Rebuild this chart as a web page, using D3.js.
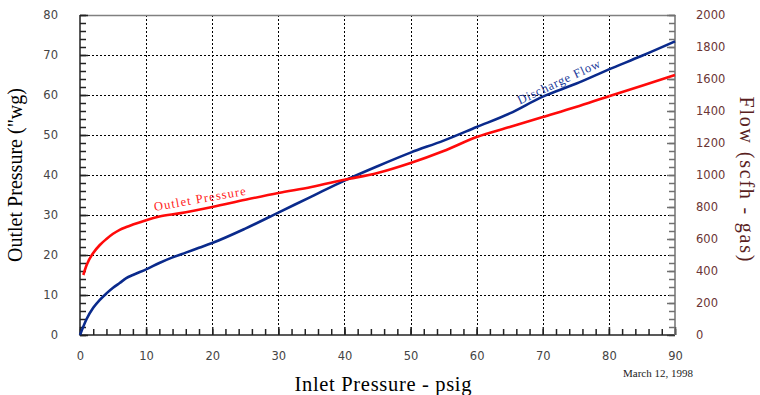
<!DOCTYPE html>
<html>
<head>
<meta charset="utf-8">
<script src="https://cdn.jsdelivr.net/npm/d3@7"></script>
<style>
  body { margin: 0; background: #fff; }
  svg { display: block; }
</style>
</head>
<body>
<div id="chart"></div>
<script>
// Outlet pressure ("wg, left axis) vs inlet pressure (psig)
const outletInlet = [0.5, 1, 2, 3, 4, 5, 6, 7, 8, 10, 12, 15, 20, 25, 30, 35, 40, 45, 50, 55, 60, 65, 70, 75, 80, 85, 90];
const outletValues = [15, 17.5, 20.5, 22.5, 24, 25.3, 26.3, 27, 27.6, 28.7, 29.6, 30.4, 32, 33.8, 35.5, 37, 38.8, 40.5, 43, 46, 49.5, 52, 54.5, 57, 59.7, 62.3, 65];

// Discharge flow (scfh - gas, right axis) vs inlet pressure
const flowInlet = [0, 1, 2, 3, 4, 5, 6, 7, 8, 10, 12, 14, 16, 18, 20, 25, 30, 35, 40, 45, 50, 55, 60, 65, 70, 75, 80, 85, 90];
const flowValues = [0, 100, 170, 220, 260, 295, 325, 355, 375, 410, 450, 485, 515, 545, 575, 665, 765, 865, 965, 1055, 1140, 1215, 1300, 1385, 1490, 1570, 1660, 1745, 1835];

const xTicks = [0, 10, 20, 30, 40, 50, 60, 70, 80, 90];
const leftTicks = [0, 10, 20, 30, 40, 50, 60, 70, 80];
const rightTicks = [0, 200, 400, 600, 800, 1000, 1200, 1400, 1600, 1800, 2000];

const width = 760, height = 395;
const pLeft = 80, pRight = 675, pTop = 15, pBottom = 335;

const svg = d3.select('#chart').append('svg')
  .attr('width', width)
  .attr('height', height);

const x = d3.scaleLinear().domain([0, 90]).range([pLeft, pRight]);
const yL = d3.scaleLinear().domain([0, 80]).range([pBottom, pTop]);
const yR = d3.scaleLinear().domain([0, 2000]).range([pBottom, pTop]);

const tickFont = '"DejaVu Sans", Verdana, sans-serif';
const serif = '"Liberation Serif", "Times New Roman", serif';

// grid
const grid = svg.append('g').attr('stroke', '#000').attr('stroke-width', 1)
  .attr('stroke-dasharray', '2,2').attr('shape-rendering', 'crispEdges');
grid.selectAll('.vg').data(xTicks.slice(1, -1)).enter().append('line')
  .attr('x1', d => Math.round(x(d)) + 0.5).attr('x2', d => Math.round(x(d)) + 0.5)
  .attr('y1', pTop).attr('y2', pBottom);
grid.selectAll('.hg').data(leftTicks.slice(1, -1)).enter().append('line')
  .attr('x1', pLeft).attr('x2', pRight)
  .attr('y1', d => Math.round(yL(d)) + 0.5).attr('y2', d => Math.round(yL(d)) + 0.5);

// frame top
svg.append('line').attr('x1', pLeft).attr('x2', pRight + 0.5).attr('y1', pTop + 0.5).attr('y2', pTop + 0.5)
  .attr('stroke', '#808080').attr('stroke-width', 1.5);

// axes
const xAxis = svg.append('g').attr('transform', `translate(0,${pBottom})`)
  .call(d3.axisBottom(x).tickValues(d3.range(0, 91, 2)).tickSize(-6).tickFormat(''));
const xLabels = svg.append('g').attr('transform', `translate(0,${pBottom})`)
  .call(d3.axisBottom(x).tickValues(xTicks).tickSize(-8).tickPadding(17).tickFormat(d3.format('d')));

const yAxis = svg.append('g').attr('transform', `translate(${pLeft},0)`)
  .call(d3.axisLeft(yL).tickValues(d3.range(0, 81, 2)).tickSize(-6).tickFormat(''));
const yLabels = svg.append('g').attr('transform', `translate(${pLeft},0)`)
  .call(d3.axisLeft(yL).tickValues(leftTicks).tickSize(-8).tickPadding(22).tickFormat(d3.format('d')));

const rAxis = svg.append('g').attr('transform', `translate(${pRight},0)`)
  .call(d3.axisRight(yR).tickValues(d3.range(0, 2001, 50)).tickSize(-6).tickFormat(''));
const rLabels = svg.append('g').attr('transform', `translate(${pRight},0)`)
  .call(d3.axisRight(yR).tickValues(rightTicks).tickSize(-8).tickPadding(21).tickFormat(d3.format('d')));

[xAxis, xLabels, yAxis, yLabels].forEach(g => {
  g.selectAll('path, line').attr('stroke', '#222').attr('stroke-width', 1.5);
  g.selectAll('text').attr('font-family', tickFont).attr('font-size', 11.5).attr('fill', '#444');
});
[rAxis, rLabels].forEach(g => {
  g.selectAll('path, line').attr('stroke', '#707070').attr('stroke-width', 1.5);
  g.selectAll('text').attr('font-family', tickFont).attr('font-size', 11.5).attr('fill', '#6b3535');
});
[xAxis, xLabels, yAxis, yLabels, rAxis, rLabels].forEach(g => g.select('.domain').remove());
svg.append('line').attr('x1', pLeft).attr('x2', pLeft).attr('y1', pTop).attr('y2', pBottom + 0.75)
  .attr('stroke', '#222').attr('stroke-width', 1.5);
svg.append('line').attr('x1', pLeft).attr('x2', pRight).attr('y1', pBottom).attr('y2', pBottom)
  .attr('stroke', '#222').attr('stroke-width', 1.5);
svg.append('line').attr('x1', pRight).attr('x2', pRight).attr('y1', pTop).attr('y2', pBottom)
  .attr('stroke', '#707070').attr('stroke-width', 1.5);

// lines
const outletLine = d3.line().x((d, i) => x(outletInlet[i])).y(d => yL(d)).curve(d3.curveMonotoneX);
const flowLine = d3.line().x((d, i) => x(flowInlet[i])).y(d => yR(d)).curve(d3.curveMonotoneX);

svg.append('path').datum(flowValues)
  .attr('d', flowLine).attr('fill', 'none').attr('stroke', '#0a2a8c').attr('stroke-width', 2.6);
svg.append('path').datum(outletValues)
  .attr('d', outletLine).attr('fill', 'none').attr('stroke', '#ff0a0a').attr('stroke-width', 2.6);

// series labels
svg.append('text')
  .attr('transform', `translate(${x(11.3)},${yL(31)}) rotate(-10)`)
  .attr('font-family', serif).attr('font-size', 12.5).attr('fill', '#ff2020')
  .attr('textLength', 93).attr('lengthAdjust', 'spacing')
  .text('Outlet Pressure');
svg.append('text')
  .attr('transform', `translate(${x(66.5)},${yR(1440)}) rotate(-25)`)
  .attr('font-family', serif).attr('font-size', 12.5).attr('fill', '#1a3a9a')
  .attr('textLength', 90).attr('lengthAdjust', 'spacing')
  .text('Discharge Flow');

// titles
svg.append('text')
  .attr('transform', `translate(22,175) rotate(-90)`)
  .attr('text-anchor', 'middle')
  .attr('font-family', serif).attr('font-size', 20).attr('fill', '#000')
  .attr('textLength', 174).attr('lengthAdjust', 'spacing')
  .text('Outlet Pressure ("wg)');
svg.append('text')
  .attr('transform', `translate(740,179) rotate(90)`)
  .attr('text-anchor', 'middle')
  .attr('font-family', serif).attr('font-size', 20).attr('fill', '#5a1f1f')
  .attr('textLength', 165).attr('lengthAdjust', 'spacing')
  .text('Flow (scfh - gas)');
svg.append('text')
  .attr('x', 383).attr('y', 391)
  .attr('text-anchor', 'middle')
  .attr('font-family', serif).attr('font-size', 20.5).attr('fill', '#000')
  .attr('textLength', 177).attr('lengthAdjust', 'spacing')
  .text('Inlet Pressure - psig');
svg.append('text')
  .attr('x', 693).attr('y', 377)
  .attr('text-anchor', 'end')
  .attr('font-family', serif).attr('font-size', 11).attr('fill', '#222')
  .text('March 12, 1998');
</script>
</body>
</html>
